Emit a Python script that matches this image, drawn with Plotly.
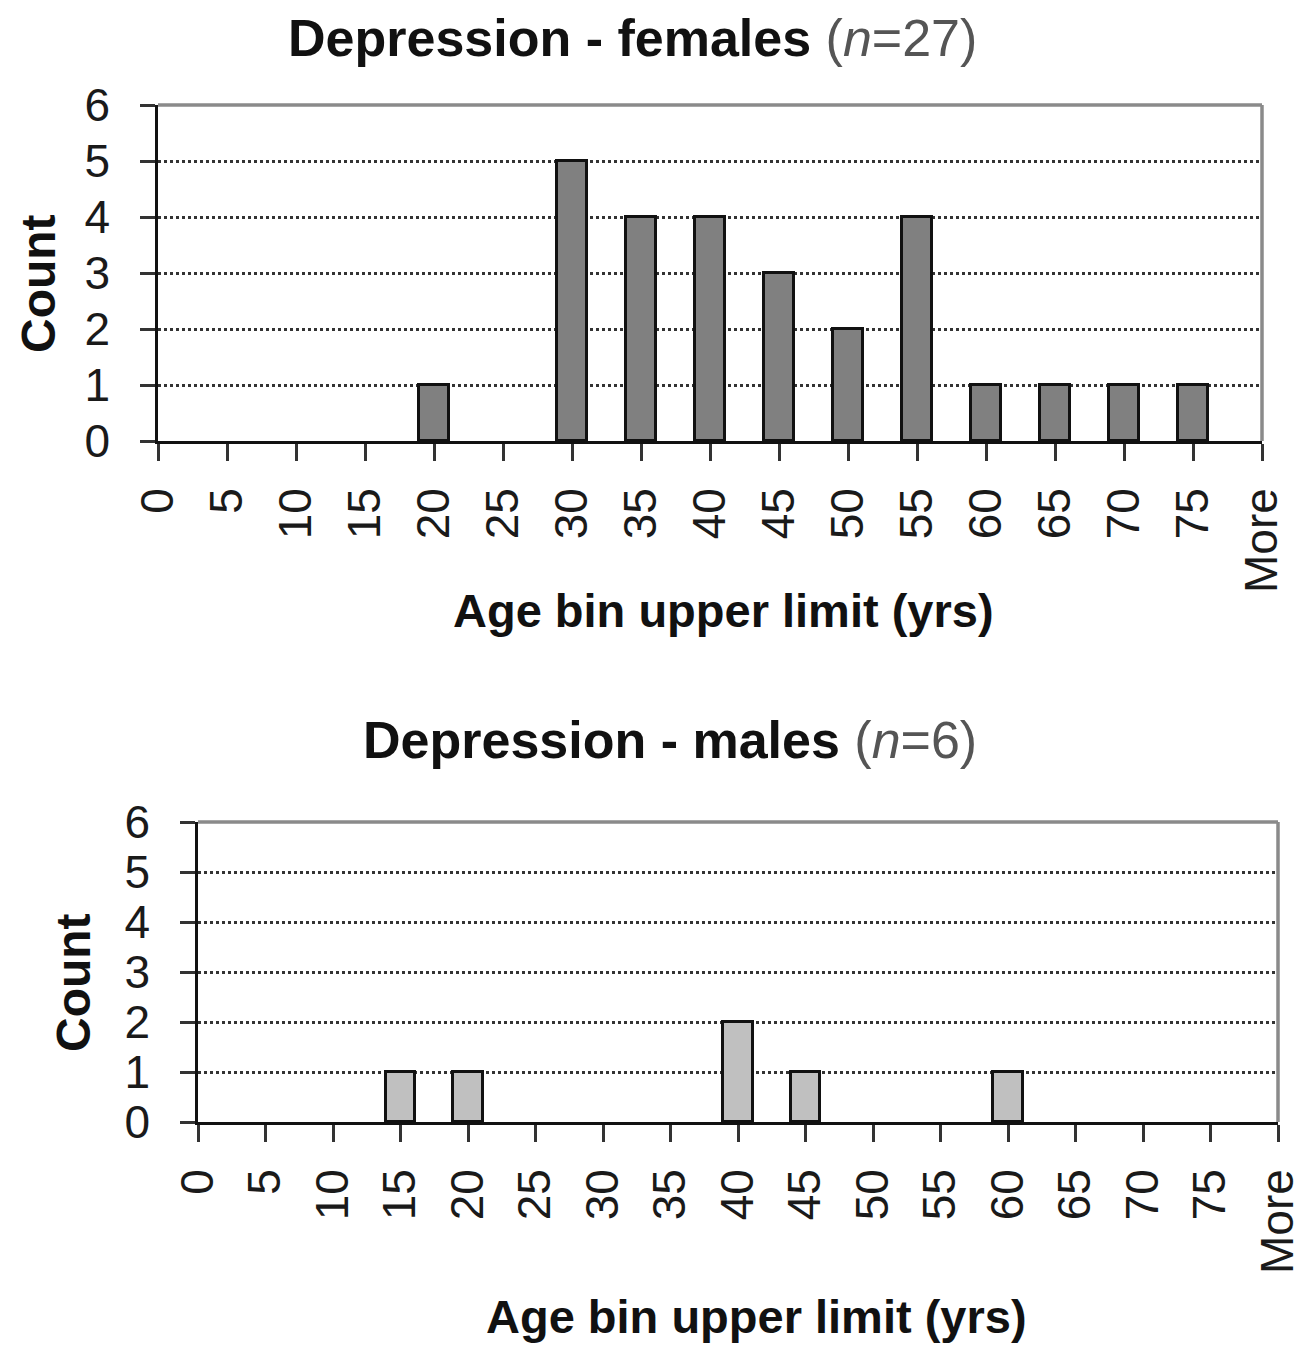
import plotly.graph_objects as go

bins = ["0", "5", "10", "15", "20", "25", "30", "35", "40", "45", "50",
        "55", "60", "65", "70", "75", "More"]
female_counts = [0, 0, 0, 0, 1, 0, 5, 4, 4, 3, 2, 4, 1, 1, 1, 1, 0]
male_counts = [0, 0, 0, 1, 1, 0, 0, 0, 2, 1, 0, 0, 1, 0, 0, 0, 0]
y_ticks = [0, 1, 2, 3, 4, 5, 6]

# page body has an 8px margin, so the figure is offset by 8px
OFF = 8
W, H = 1316 - OFF, 1349 - OFF
FONT = "Liberation Sans, Arial, sans-serif"

def px_x(v):
    return (v - OFF) / W

def px_y(v):
    return 1 - (v - OFF) / H

def nonzero(vals):
    # empty bins draw no bar (no outline) in the original
    return [v if v else None for v in vals]

fig = go.Figure()

fig.add_trace(go.Bar(x=bins, y=nonzero(female_counts), xaxis="x", yaxis="y",
                     width=0.44, marker=dict(color="#808080",
                     line=dict(color="#111111", width=3)), showlegend=False))
fig.add_trace(go.Bar(x=bins, y=nonzero(male_counts), xaxis="x2", yaxis="y2",
                     width=0.44, marker=dict(color="#c0c0c0",
                     line=dict(color="#111111", width=3)), showlegend=False))

n = len(bins)
tick_font = dict(family=FONT, size=46, color="#1a1a1a")

def main_x(dom, anchor):
    return dict(domain=dom, anchor=anchor, type="category",
                categoryorder="array", categoryarray=bins,
                range=[0, n - 1], showline=True, linecolor="#111111",
                linewidth=2.5, ticks="outside", ticklen=17, tickwidth=2.5,
                tickcolor="#333333", tickangle=-90, tickfont=tick_font,
                ticklabelstandoff=9, showgrid=False, zeroline=False,
                fixedrange=True)

def main_y(dom, anchor):
    return dict(domain=dom, anchor=anchor, range=[0, 6],
                tickvals=y_ticks, showline=True, linecolor="#111111",
                linewidth=2.5, ticks="outside", ticklen=15, tickwidth=2.5,
                tickcolor="#333333", tickfont=tick_font, ticklabelstandoff=21,
                showgrid=True, gridcolor="#333333", gridwidth=2.5,
                griddash="3px,3px", zeroline=False, fixedrange=True)

def over_x(dom, anchor, over):
    return dict(domain=dom, anchor=anchor, overlaying=over, range=[0, n - 1],
                tickvals=list(range(n)), ticks="inside", ticklen=14,
                tickwidth=2.5, tickcolor="#333333", showticklabels=False,
                showline=False, showgrid=False, zeroline=False, fixedrange=True)

def over_y(dom, anchor, over):
    return dict(domain=dom, anchor=anchor, overlaying=over, range=[0, 6],
                tickvals=y_ticks, ticks="inside", ticklen=14, tickwidth=2.5,
                tickcolor="#333333", showticklabels=False, showline=False,
                showgrid=False, zeroline=False, fixedrange=True)

xd1 = [px_x(158), px_x(1262)]
yd1 = [px_y(441), px_y(105)]
xd2 = [px_x(198), px_x(1278)]
yd2 = [px_y(1122), px_y(822)]

fig.update_layout(
    width=W, height=H,
    margin=dict(l=0, r=0, t=0, b=0, pad=0, autoexpand=False),
    paper_bgcolor="white", plot_bgcolor="white",
    bargap=0,
    xaxis=main_x(xd1, "y"),
    yaxis=main_y(yd1, "x"),
    xaxis2=main_x(xd2, "y2"),
    yaxis2=main_y(yd2, "x2"),
    xaxis3=over_x(xd1, "y", "x"),
    yaxis3=over_y(yd1, "x", "y"),
    xaxis4=over_x(xd2, "y2", "x2"),
    yaxis4=over_y(yd2, "x2", "y2"),
)

# gray top and right frame lines
for xr, yr in (("x domain", "y domain"), ("x2 domain", "y2 domain")):
    fig.add_shape(type="line", xref=xr, yref=yr, x0=0, x1=1, y0=1, y1=1,
                  line=dict(color="#8a8a8a", width=3.5))
    fig.add_shape(type="line", xref=xr, yref=yr, x0=1, x1=1, y0=0, y1=1,
                  line=dict(color="#8a8a8a", width=3.5))

title_font = dict(family=FONT, size=52, color="#111111")
label_font = dict(family=FONT, size=47, color="#111111")
count_font = dict(family=FONT, size=48, color="#111111")

annos = [
    dict(text="<b>Depression - females</b> <span style='color:#555'>(<i>n</i>=27)</span>",
         x=px_x(632), y=px_y(38), font=title_font),
    dict(text="<b>Depression - males</b> <span style='color:#555'>(<i>n</i>=6)</span>",
         x=px_x(670), y=px_y(740), font=title_font),
    dict(text="<b>Age bin upper limit (yrs)</b>", x=px_x(723), y=px_y(610),
         font=label_font),
    dict(text="<b>Age bin upper limit (yrs)</b>", x=px_x(756), y=px_y(1316),
         font=label_font),
    dict(text="<b>Count</b>", x=px_x(38), y=px_y(284), font=count_font,
         textangle=-90),
    dict(text="<b>Count</b>", x=px_x(73), y=px_y(983), font=count_font,
         textangle=-90),
]
for a in annos:
    fig.add_annotation(xref="paper", yref="paper", showarrow=False,
                       xanchor="center", yanchor="middle", **a)

fig.write_html("out.html")
